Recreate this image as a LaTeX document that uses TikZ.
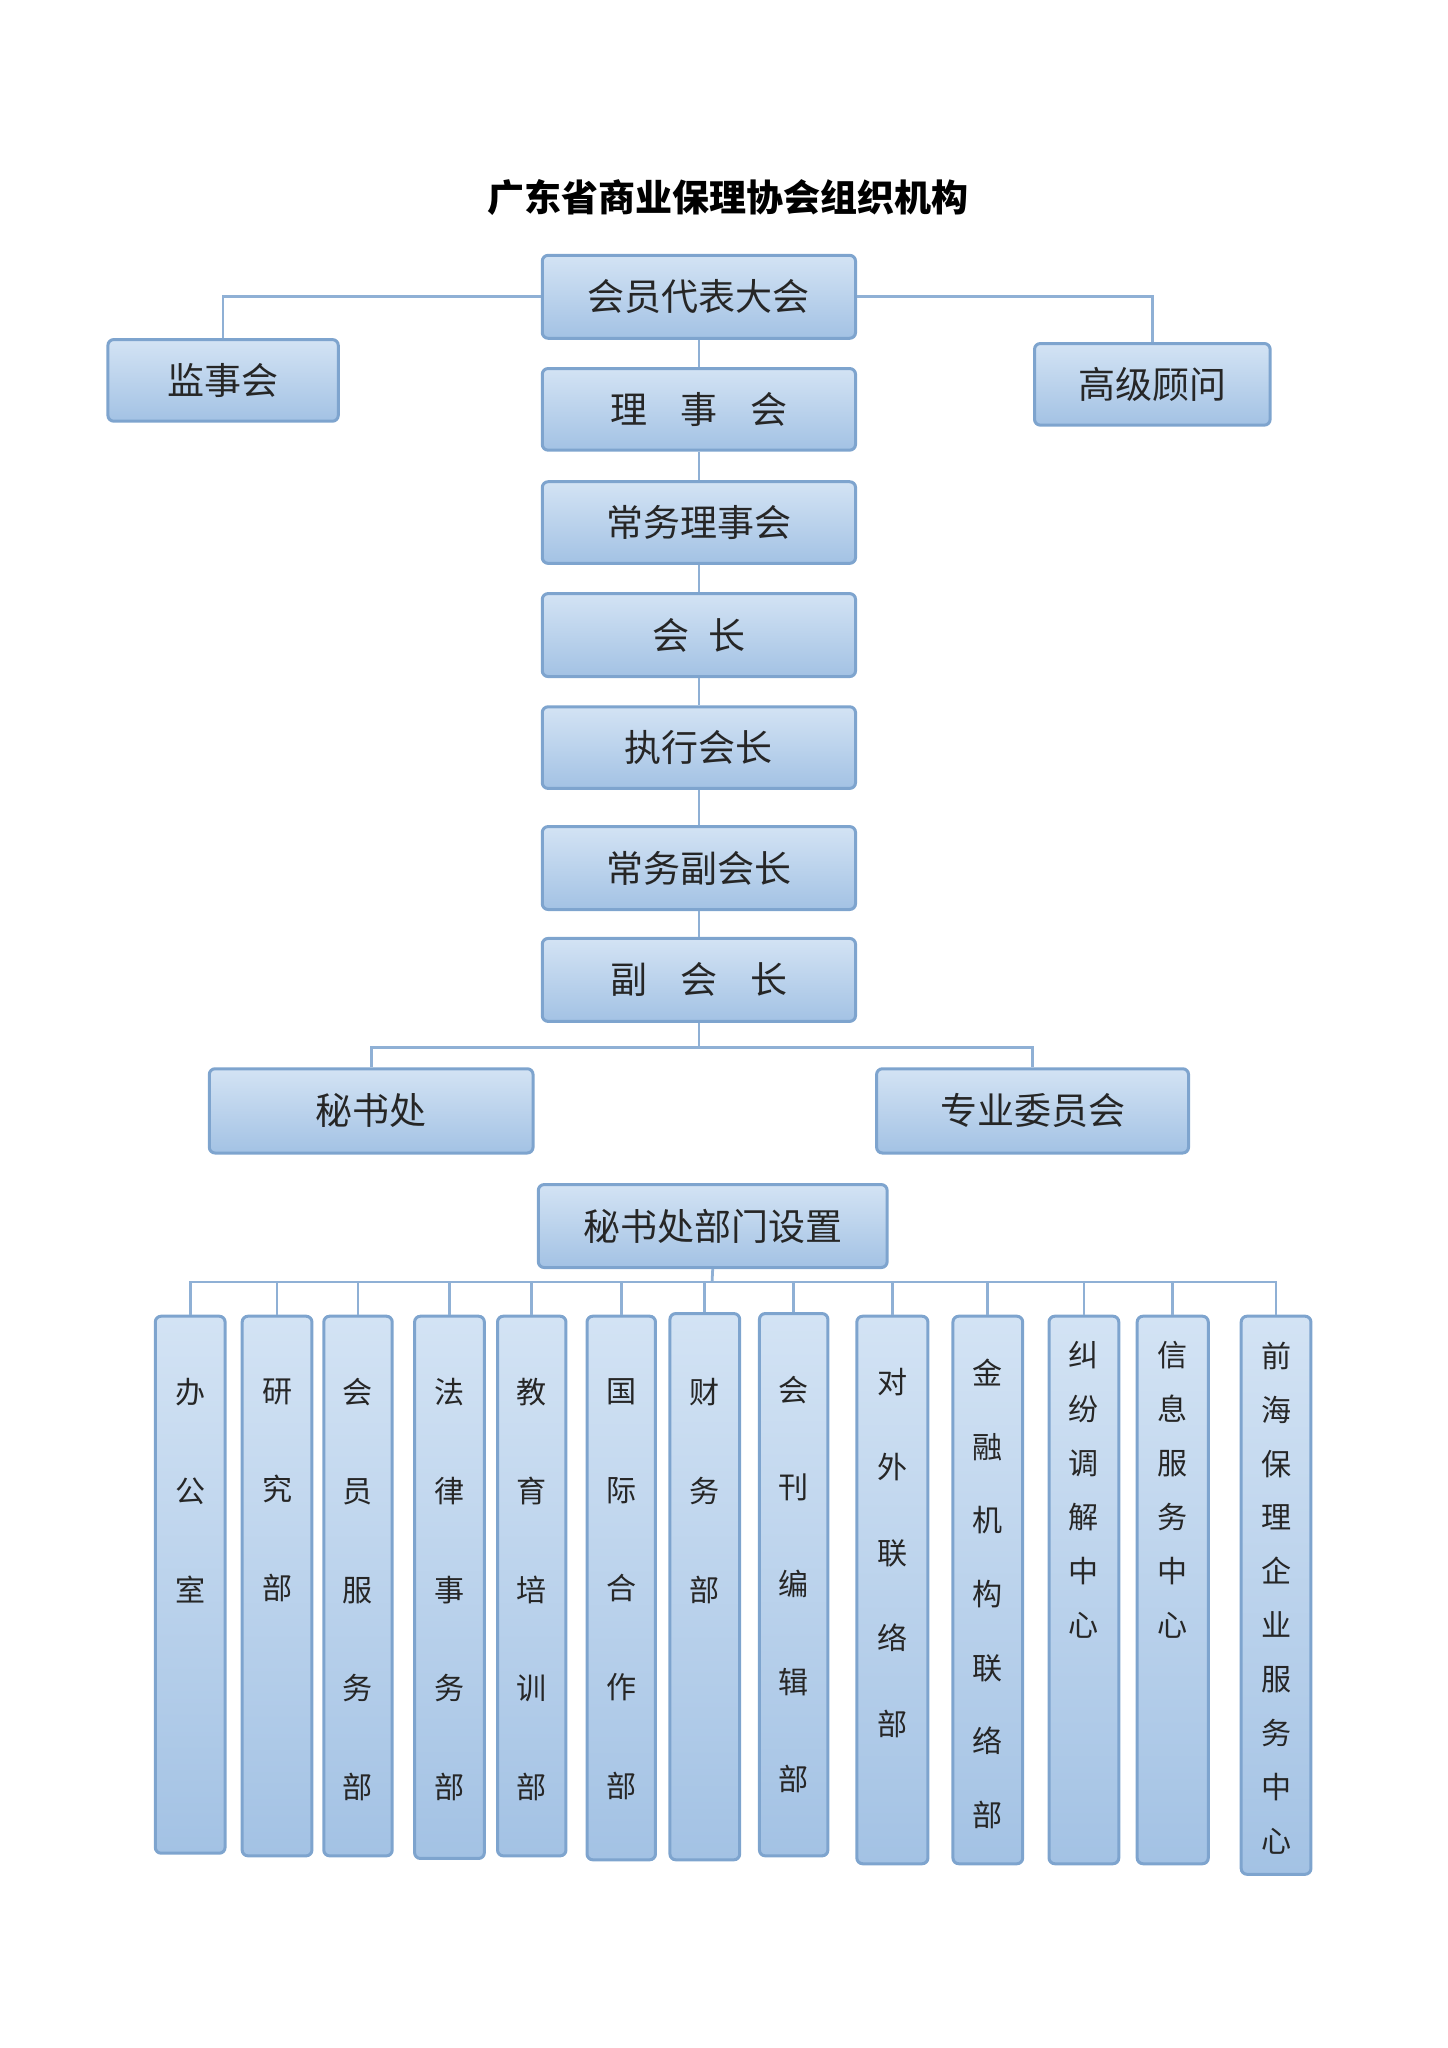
\documentclass[tikz,border=0pt]{standalone}
\usepackage{fontspec}
\newfontfamily\cjk{Noto Sans CJK SC}
\definecolor{bfill1}{HTML}{D3E3F4}
\definecolor{bfill2}{HTML}{A3C2E4}
\definecolor{bdraw}{HTML}{7EA4CE}
\definecolor{lcol}{HTML}{8FB0D5}
\tikzset{
  hbox/.style={draw=bdraw,line width=1.3pt,rounded corners=2.5pt,top color=bfill1,bottom color=bfill2,
    font=\cjk\fontsize{16}{18}\selectfont,text=black!85,inner sep=0pt},
  conn/.style={draw=lcol,line width=1.2pt},
}
\newcommand\hb[6]{\node[hbox,minimum width={(#3-#2)*0.2mm},minimum height={(#5-#4)*0.2mm}] (#1) at ({(#2+#3)/2},{(#4+#5)/2}) {#6};}
\newcommand\col[8]{\node[hbox,minimum width={(#3-#2)*0.2mm},minimum height={(#5-#4)*0.2mm}] (#1) at ({(#2+#3)/2},{(#4+#5)/2}) {};
\pgfmathsetmacro\mybsk{#7*0.569}%
\node[font=\cjk\fontsize{13}{\mybsk pt}\selectfont,align=center,anchor=north,inner sep=0pt,text=black!85] (#1t) at ({(#2+#3)/2},{#6-13}) {#8};}
\begin{document}
\begin{tikzpicture}[x=0.2mm,y=-0.2mm]
\useasboundingbox (0,0) rectangle (1100,1556);
\node[font=\cjk\bfseries\fontsize{16}{18}\selectfont] (title) at (553,150) {广东省商业保理协会组织机构};
\hb{a}{412}{650}{194}{257}{会员代表大会}
\hb{js}{82}{257}{258}{320}{监事会}
\hb{gw}{786}{965}{261}{323}{高级顾问}
\hb{b}{412}{650}{280}{342}{理\hspace{0.9em}事\hspace{0.9em}会}
\hb{c}{412}{650}{366}{428}{常务理事会}
\hb{d}{412}{650}{451}{514}{会\hspace{0.5em}长}
\hb{e}{412}{650}{537}{599}{执行会长}
\hb{f}{412}{650}{628}{691}{常务副会长}
\hb{g}{412}{650}{713}{776}{副\hspace{0.9em}会\hspace{0.9em}长}
\hb{ms}{159}{405}{812}{876}{秘书处}
\hb{zy}{666}{903}{812}{876}{专业委员会}
\hb{bm}{409}{674}{900}{963}{秘书处部门设置}
\draw[conn] (a.south)--(b.north) (b.south)--(c.north) (c.south)--(d.north) (d.south)--(e.north) (e.south)--(f.north) (f.south)--(g.north);
\draw[conn] (a.west) -| (js.north);
\draw[conn] (a.east) -| (gw.north);
\coordinate (busa) at (531,796);
\draw[conn] (g.south) -- (busa);
\draw[conn] (ms.north) |- (busa) -| (zy.north);
\col{k1}{118}{171}{1000}{1408}{1060}{75}{办\\公\\室}
\col{k2}{184}{237}{1000}{1410}{1060}{75}{研\\究\\部}
\col{k3}{246}{298}{1000}{1410}{1060}{75}{会\\员\\服\\务\\部}
\col{k4}{315}{368}{1000}{1412}{1060}{75}{法\\律\\事\\务\\部}
\col{k5}{378}{430}{1000}{1410}{1060}{75}{教\\育\\培\\训\\部}
\col{k6}{446}{498}{1000}{1413}{1060}{75}{国\\际\\合\\作\\部}
\col{k7}{509}{562}{998}{1413}{1060}{75}{财\\务\\部}
\col{k8}{577}{629}{998}{1410}{1058}{74}{会\\刊\\编\\辑\\部}
\col{k9}{651}{705}{1000}{1416}{1052}{65}{对\\外\\联\\络\\部}
\col{k10}{724}{777}{1000}{1416}{1045}{56}{金\\融\\机\\构\\联\\络\\部}
\col{k11}{797}{850}{1000}{1416}{1032}{41}{纠\\纷\\调\\解\\中\\心}
\col{k12}{864}{918}{1000}{1416}{1032}{41}{信\\息\\服\\务\\中\\心}
\col{k13}{943}{996}{1000}{1424}{1032}{41}{前\\海\\保\\理\\企\\业\\服\\务\\中\\心}
\coordinate (busb) at (541,974);
\draw[conn] (bm.south) -- (busb);
\draw[conn] (k1.north) |- (busb) -| (k13.north);
\foreach \k in {k2,k3,k4,k5,k6,k7,k8,k9,k10,k11,k12}{\draw[conn] (\k.north) -- (\k.north |- busb);}
\end{tikzpicture}
\end{document}
